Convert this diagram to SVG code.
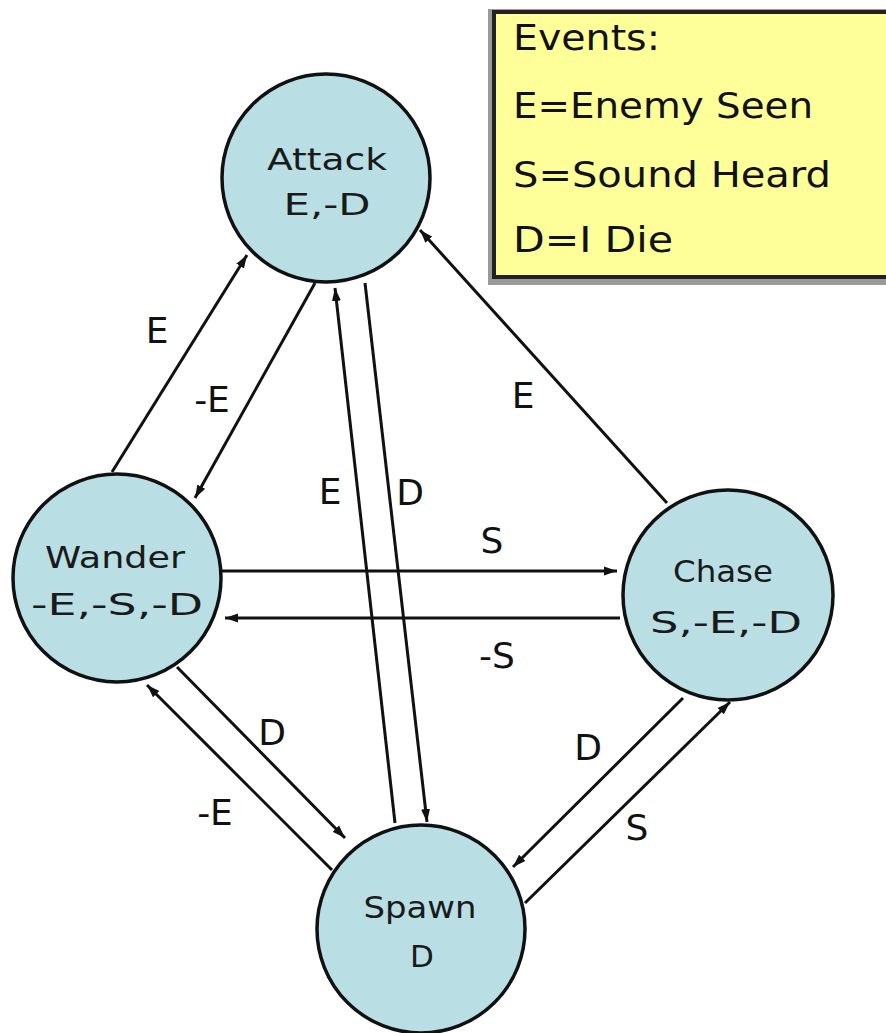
<svg xmlns="http://www.w3.org/2000/svg" width="886" height="1033" viewBox="0 0 886 1033">
  <defs>
    <marker id="arr" markerUnits="userSpaceOnUse" markerWidth="14" markerHeight="10" refX="13" refY="5" orient="auto">
      <path d="M0,0.5 L13,5 L0,9.5 z" fill="#111"/>
    </marker>
  </defs>
  <style>
    .node { fill: #b9dfe5; stroke: #111; stroke-width: 3.5; }
    .ntext { font-family: "DejaVu Sans", "Liberation Sans", sans-serif; font-size: 31px; fill: #1a1a1a; text-anchor: middle; }
    .lbl { font-family: "DejaVu Sans", "Liberation Sans", sans-serif; font-size: 36px; fill: #111; text-anchor: middle; }
    .leg { font-family: "DejaVu Sans", "Liberation Sans", sans-serif; font-size: 36px; fill: #111; }
    .edge { stroke: #111; stroke-width: 3; fill: none; marker-end: url(#arr); }
  </style>
  <rect width="886" height="1033" fill="#ffffff"/>

  <g id="legend">
    <rect x="488" y="9" width="400" height="276" fill="#9a9a9a"/>
    <rect x="494" y="12" width="396" height="265" fill="#ffff99" stroke="#222" stroke-width="4"/>
    <text class="leg" x="513" y="50" textLength="147" lengthAdjust="spacingAndGlyphs">Events:</text>
    <text class="leg" x="513" y="118" textLength="300" lengthAdjust="spacingAndGlyphs">E=Enemy Seen</text>
    <text class="leg" x="513" y="187" textLength="318" lengthAdjust="spacingAndGlyphs">S=Sound Heard</text>
    <text class="leg" x="513" y="252" textLength="160" lengthAdjust="spacingAndGlyphs">D=I Die</text>
  </g>

  <g id="attack">
    <circle class="node" cx="326" cy="178" r="104"/>
    <text class="ntext" x="327" y="170" textLength="120" lengthAdjust="spacingAndGlyphs">Attack</text>
    <text class="ntext" x="327" y="215" textLength="87" lengthAdjust="spacingAndGlyphs">E,-D</text>
  </g>
  <g id="wander">
    <circle class="node" cx="117" cy="578" r="104"/>
    <text class="ntext" x="115" y="568" textLength="140" lengthAdjust="spacingAndGlyphs">Wander</text>
    <text class="ntext" x="117" y="615" textLength="172" lengthAdjust="spacingAndGlyphs">-E,-S,-D</text>
  </g>
  <g id="chase">
    <circle class="node" cx="728" cy="595" r="105"/>
    <text class="ntext" x="723" y="582" textLength="100" lengthAdjust="spacingAndGlyphs">Chase</text>
    <text class="ntext" x="726" y="633" textLength="152" lengthAdjust="spacingAndGlyphs">S,-E,-D</text>
  </g>
  <g id="spawn">
    <circle class="node" cx="421" cy="929" r="104"/>
    <text class="ntext" x="420" y="918" textLength="113" lengthAdjust="spacingAndGlyphs">Spawn</text>
    <text class="ntext" x="422" y="967">D</text>
  </g>

  <g id="connectors">
    <line class="edge" x1="112" y1="472" x2="247" y2="255"/>
    <line class="edge" x1="315" y1="283" x2="195" y2="498"/>
    <line class="edge" x1="395" y1="823" x2="335" y2="288"/>
    <line class="edge" x1="365" y1="283" x2="427" y2="822"/>
    <line class="edge" x1="667" y1="503" x2="420" y2="230"/>
    <line class="edge" x1="222" y1="571" x2="617" y2="571"/>
    <line class="edge" x1="620" y1="618" x2="225" y2="618"/>
    <line class="edge" x1="177" y1="667" x2="345" y2="838"/>
    <line class="edge" x1="332" y1="870" x2="147" y2="685"/>
    <line class="edge" x1="683" y1="698" x2="513" y2="867"/>
    <line class="edge" x1="525" y1="903" x2="730" y2="702"/>
    <text class="lbl" x="157" y="343">E</text>
    <text class="lbl" x="212" y="412">-E</text>
    <text class="lbl" x="330" y="504">E</text>
    <text class="lbl" x="410" y="505">D</text>
    <text class="lbl" x="523" y="408">E</text>
    <text class="lbl" x="492" y="553">S</text>
    <text class="lbl" x="497" y="668">-S</text>
    <text class="lbl" x="272" y="745">D</text>
    <text class="lbl" x="215" y="825">-E</text>
    <text class="lbl" x="588" y="760">D</text>
    <text class="lbl" x="637" y="840">S</text>
  </g>
</svg>
